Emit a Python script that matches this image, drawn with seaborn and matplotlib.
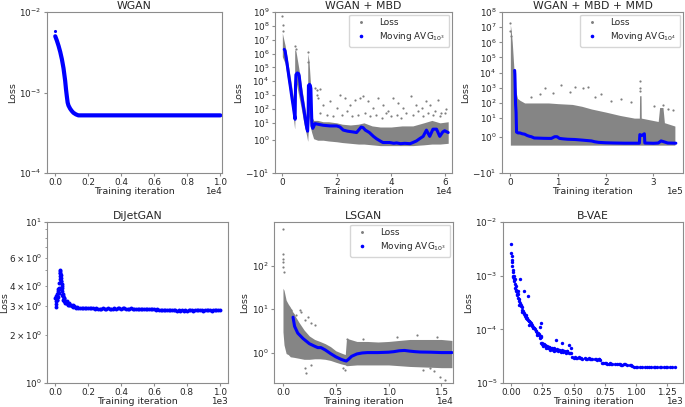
import numpy as np
import pandas as pd
import matplotlib
matplotlib.use("Agg")
import matplotlib.pyplot as plt
import matplotlib.ticker as mticker
from matplotlib.lines import Line2D
import seaborn as sns

# ---------------- WGAN ----------------
wgan_x = [0, 100, 200, 300, 400, 500, 600, 650, 700, 750, 800, 900, 1000, 1100, 1250, 1400, 10000]
wgan_avg = [5.0e-3, 4.4e-3, 3.8e-3, 3.2e-3, 2.6e-3, 2.0e-3, 1.4e-3, 1.1e-3, 9.0e-4, 7.5e-4, 6.9e-4,
            6.3e-4, 5.9e-4, 5.6e-4, 5.35e-4, 5.2e-4, 5.2e-4]
wgan_first_x = [0]
wgan_first_y = [5.8e-3]

# ---------------- WGAN + MBD ----------------
mbd_cloud_x = [0, 1000, 2000, 3000, 4000, 4500, 4550, 5000, 6000, 7000, 8000, 9000, 9300, 9350, 9800,
               10300, 10800, 11500, 13000, 15000, 17000, 20000, 22000, 25000, 28000, 30000, 33000, 36000,
               40000, 44000, 48000, 52000, 55000, 58000, 61000]
mbd_cloud_lo = [6e5, 2e5, 1.3e4, 800, 30, 4, 4, 1e4, 1e3, 100, 8, 1.5, 0.9, 0.9, 30, 5, 2, 1.2, 1.0, 1.0,
                0.9, 0.8, 0.7, 0.6, 0.5, 0.5, 0.4, 0.3, 0.3, 0.3, 0.3, 0.4, 0.5, 0.5, 0.6]
mbd_cloud_hi = [3e7, 4e6, 2.5e5, 1.6e4, 800, 80, 2e6, 1.5e6, 1e5, 5e3, 300, 20, 8, 1e6, 3e5, 1e4, 30, 15,
                15, 12, 12, 10, 8, 7, 8, 10, 6, 5, 5, 6, 6, 10, 15, 10, 12]
mbd_out_x = [0, 370, 100, 4650, 4900, 9300, 9400,
             12000, 12850, 13830, 12600, 13200, 15050, 17500, 19950, 21200, 23000, 24850, 26700, 28500,
             29700, 31600, 33400, 35250, 37100, 38900, 40760, 42600, 44400, 47500, 49300, 51200, 53000,
             54200, 56060, 57300, 58500, 60300,
             13800, 16300, 18700, 21800, 23600, 25500, 27900, 30350, 32200, 34600, 36500, 38300, 40100,
             42000, 43800, 45650, 48100, 49900, 51800, 53600, 55400, 57900, 59700]
mbd_out_y = [5e8, 1.1e8, 4.4e7, 3.7e6, 2.2e6, 1.3e6, 2.4e5,
             3500, 2400, 2800, 1070, 620, 208, 355, 120, 1070, 620, 208, 470, 620,
             800, 355, 120, 620, 208, 70, 620, 270, 120, 800, 208, 120, 355,
             208, 70, 470, 53, 92,
             53, 40, 30, 40, 70, 30, 40, 53, 30, 40, 23, 53, 30,
             40, 23, 53, 40, 70, 30, 53, 40, 30, 53]
mbd_avg_x = [700, 1000, 1500, 2000, 2500, 3000, 3500, 4000, 4500, 4700, 4850, 5000, 5500, 6000, 6200,
             6600, 7000, 7500, 8000, 8500, 9000, 9300, 9500, 9600, 10000, 10300, 10500, 10700, 10900,
             11200, 12000, 13000, 15000, 17500, 20000, 21200, 22400, 24000, 26000, 27300, 29000, 29700,
             30500, 32000, 33500, 34600, 36000, 37000, 39500, 41000, 42000, 43500, 45000, 47000, 48000,
             49300, 50500, 51800, 53000, 54200, 55400, 56700, 57900, 59000, 59700, 61000]
mbd_avg_y = [2.0e6, 1.6e6, 4e5, 8e4, 1.6e4, 3.5e3, 700, 160, 32, 18, 5e3, 3e4, 4e4, 3.5e4, 2.5e4,
             5e3, 1.2e3, 300, 70, 15, 4, 2.5, 30, 5e3, 6e3, 5e3, 3e3, 100, 6,
             4, 8.8, 8, 6.7, 6, 6, 5, 3, 2.5, 2.2, 2.0, 5, 4.5,
             3, 2.0, 1.5, 1.2, 0.9, 0.7, 0.7, 0.6, 0.65, 0.55, 0.6, 0.55, 0.7,
             0.9, 1.2, 1.5, 3, 1.5, 3.5, 3.5, 1.5, 2.2, 2.7, 2.0]

# ---------------- WGAN + MBD + MMD ----------------
mmd_cloud_x = [0, 2000, 4000, 6000, 8000, 10000, 12000, 15000, 20000, 30000, 50000, 80000, 100000, 130000,
               150000, 170000, 200000, 230000, 260000, 270500, 271000, 274000, 274500, 290000, 310000,
               313000, 320000, 323000, 345000]
mmd_cloud_lo = [0.05] * 29
mmd_cloud_hi = [1.5e7, 5e6, 1e6, 1e5, 1e4, 2e3, 500, 200, 150, 100, 100, 100, 90, 80, 60, 40, 25, 15, 10,
                10, 300, 300, 10, 8, 6, 50, 50, 5, 3]
mmd_out_x = [0, 0, 1000, 44000, 61400, 71900, 89300, 106800, 124200, 134700, 152100, 162600, 176600,
             190500, 211400, 232400, 253300, 272200, 272200, 272500, 302200, 319600, 330000, 340500]
mmd_out_y = [1.8e7, 5.7e6, 2.7e6, 230, 380, 1000, 480, 1500, 530, 1100, 910, 1100, 230,
             380, 140, 180, 110, 2700, 1000, 600, 67, 78, 40, 32]
mmd_avg_x = [9000, 9500, 10000, 10500, 11000, 12000, 13000, 16000, 20000, 25000, 30000, 35000, 40000,
             44000, 50000, 60000, 70000, 80000, 86000, 93000, 98000, 103000, 110000, 120000, 135000,
             150000, 160000, 170000, 177000, 185000, 200000, 220000, 240000, 260000, 270500, 271500,
             276000, 281000, 282000, 300000, 310000, 316000, 322000, 330000, 347000]
mmd_avg_y = [1.4e4, 8e3, 2e3, 300, 80, 25, 1.6, 1.5, 1.5, 1.4, 1.35, 1.2, 1.1,
             1.05, 0.9, 0.88, 0.86, 0.85, 0.85, 1.05, 1.05, 0.85, 0.8, 0.75, 0.72,
             0.65, 0.6, 0.55, 0.45, 0.38, 0.33, 0.3, 0.28, 0.28, 0.28, 1.3,
             1.2, 1.4, 0.3, 0.27, 0.3, 0.55, 0.45, 0.3, 0.28]

# ---------------- DiJetGAN ----------------
dijet_x = [0, 2, 4, 6, 8, 10, 12, 14, 16, 18, 20, 22, 24, 26, 28, 30, 32, 34, 36, 38, 40, 42, 44, 46,
           48, 50, 52, 54, 56, 58, 60, 62, 64, 66, 70, 74, 78, 82, 86, 91, 96, 101, 106, 111, 116, 121,
           126, 131, 141, 151, 160, 170, 180, 190, 200, 210, 220, 230, 240, 250, 260, 270, 280, 290,
           300, 310, 320, 330, 340, 350, 360, 370, 380, 390, 400, 410, 420, 430, 440, 450, 460, 470,
           480, 490, 500, 510, 520, 530, 540, 550, 560, 570, 580, 590, 600, 610, 620, 630, 640, 650,
           660, 670, 680, 690, 700, 710, 720, 730, 740, 750, 760, 770, 780, 790, 800, 810, 820, 830,
           840, 850, 860, 870, 880, 890, 900, 910, 920, 930, 940, 950, 960, 970, 980, 990, 1000,
           4, 10, 14, 20, 28, 32, 36, 40, 44, 50, 56, 62, 70, 80]
dijet_y = [3.38, 3.22, 2.97, 3.46, 3.30, 3.30, 3.55, 3.72, 3.63, 3.81, 3.63, 3.81, 4.19, 4.61, 4.95,
           4.79, 5.03, 4.50, 4.66, 4.30, 4.00, 3.90, 3.72, 3.46, 3.55, 3.30, 3.38, 3.22, 3.30, 3.15,
           3.22, 3.18, 3.12, 3.18, 3.15, 3.12, 3.07, 3.12, 3.03, 3.07, 3.03, 3.00, 3.03, 2.97, 3.00, 2.96,
           2.93, 2.96, 2.93, 2.92, 2.92, 2.93, 2.91, 2.92, 2.93, 2.93, 2.91, 2.92, 2.90, 2.91, 2.90,
           2.89, 2.90, 2.91, 2.90, 2.89, 2.91, 2.90, 2.89, 2.90, 2.91, 2.90, 2.92, 2.91, 2.90, 2.92,
           2.91, 2.90, 2.89, 2.90, 2.91, 2.90, 2.89, 2.90, 2.89, 2.90, 2.88, 2.89, 2.88, 2.89, 2.88,
           2.87, 2.88, 2.87, 2.88, 2.86, 2.87, 2.85, 2.86, 2.85, 2.86, 2.85, 2.84, 2.85, 2.83, 2.84,
           2.83, 2.84, 2.82, 2.83, 2.82, 2.83, 2.82, 2.83, 2.82, 2.83, 2.84, 2.83, 2.82, 2.83, 2.84,
           2.83, 2.84, 2.83, 2.82, 2.84, 2.83, 2.84, 2.83, 2.82, 2.83, 2.84, 2.83, 2.84, 2.83,
           3.10, 3.45, 3.40, 3.90, 4.40, 4.85, 4.30, 4.10, 3.50, 3.45, 3.35, 3.25, 3.25, 3.10]

# ---------------- LSGAN ----------------
ls_cloud_x = [0, 100, 300, 500, 700, 1000, 1500, 2000, 2500, 3000, 3500, 4000, 4500, 5000, 5500, 5900,
              6000, 6100, 7000, 8000, 9000, 10000, 11000, 12000, 13000, 14000, 15000, 16000]
ls_cloud_lo = [3, 1.5, 0.95, 0.9, 0.8, 0.78, 0.74, 0.7, 0.7, 0.72, 0.72, 0.7, 0.66, 0.6, 0.55, 0.52,
               0.5, 0.5, 0.52, 0.52, 0.52, 0.52, 0.5, 0.48, 0.47, 0.46, 0.45, 0.45]
ls_cloud_hi = [30, 27, 16, 13, 11, 8, 5, 3.3, 2.4, 2.0, 1.8, 1.6, 1.37, 1.1, 0.98, 0.9,
               1.9, 2.1, 1.8, 1.8, 1.75, 1.8, 1.9, 2.0, 2.0, 2.0, 2.0, 1.9]
ls_out_x = [0, 0, 0, 0, 0, 60, 790, 950, 1270, 1580, 1740, 2060, 2380, 2700, 3010,
            2060, 2150, 2700, 5700, 5860, 14260, 14900, 15370, 13950, 13300,
            6020, 7600, 10800, 12700, 14600]
ls_out_y = [700, 186, 145, 120, 93, 72, 9.5, 7.9, 7.3, 9.5, 8.7, 5.6, 6.7, 4.7, 4.3,
            0.44, 0.34, 0.52, 0.44, 0.40, 0.37, 0.28, 0.24, 0.44, 0.40,
            2.1, 2.0, 2.3, 2.5, 2.3]
ls_avg_x = [950, 1100, 1400, 1900, 2500, 3000, 3300, 3600, 4000, 4500, 5000, 5500, 5800, 6000, 6200,
            6500, 7000, 7500, 8000, 9000, 10000, 10500, 11000, 11500, 12000, 12500, 13000, 14000,
            15000, 16000]
ls_avg_y = [6.5, 4.0, 2.8, 2.1, 1.6, 1.4, 1.3, 1.3, 1.15, 0.95, 0.8, 0.7, 0.66, 0.64, 0.7,
            0.82, 0.93, 0.98, 1.0, 1.0, 1.02, 1.05, 1.1, 1.12, 1.08, 1.05, 1.03, 1.02, 1.0, 1.0]

# ---------------- B-VAE ----------------
bvae_x = [0, 2, 4, 6, 8, 10, 12, 14, 16, 18, 20, 24, 28, 32, 36, 40, 45, 50, 55, 60, 65, 70, 75, 80,
          85, 90, 95, 100, 110, 120, 130, 140, 150, 160, 170, 180, 190, 200, 210, 220, 230, 238, 242,
          250, 260, 270, 280, 290, 300, 320, 340, 360, 380, 400, 420, 440, 460, 480, 490, 520, 560,
          600, 640, 680, 710, 725, 760, 800, 850, 900, 950, 970, 1000, 1050, 1100, 1150, 1200, 1250,
          1310,
          22, 30, 42, 52, 58, 74, 106, 132, 238, 233, 357, 410, 463, 477, 66, 88, 115, 145, 175, 205,
          228, 255, 275, 310, 345, 395, 445, 540, 620, 700, 780, 880]
bvae_y = [3.9e-3, 2.6e-3, 2.3e-3, 2.0e-3, 1.8e-3, 1.5e-3, 1.3e-3, 1.15e-3, 1.0e-3, 9.5e-4, 8.5e-4,
          8.0e-4, 7.0e-4, 6.0e-4, 5.5e-4, 5.2e-4, 4.6e-4, 4.3e-4, 3.9e-4, 3.7e-4, 3.4e-4, 3.1e-4,
          2.9e-4, 2.7e-4, 2.6e-4, 2.3e-4, 2.2e-4, 2.0e-4, 1.8e-4, 1.7e-4, 1.55e-4, 1.45e-4, 1.35e-4,
          1.25e-4, 1.15e-4, 1.05e-4, 1.0e-4, 9.2e-5, 8.6e-5, 8.2e-5, 7.6e-5, 7.2e-5, 5.6e-5, 5.4e-5,
          5.2e-5, 5.0e-5, 4.8e-5, 4.7e-5, 4.6e-5, 4.4e-5, 4.3e-5, 4.2e-5, 4.1e-5, 4.0e-5, 3.9e-5,
          3.8e-5, 3.7e-5, 3.7e-5, 3.0e-5, 2.95e-5, 2.9e-5, 2.85e-5, 2.8e-5, 2.75e-5, 2.7e-5, 2.4e-5,
          2.35e-5, 2.3e-5, 2.3e-5, 2.25e-5, 2.2e-5, 2.05e-5, 2.0e-5, 2.0e-5, 2.0e-5, 2.0e-5, 2.0e-5,
          2.0e-5, 2.0e-5,
          1.0e-3, 8.8e-4, 6.5e-4, 5.2e-4, 4.5e-4, 8.5e-4, 5.1e-4, 4.2e-4, 1.3e-4, 1.1e-4, 6.4e-5,
          5.6e-5, 5.0e-5, 4.5e-5, 2.8e-4, 2.1e-4, 1.6e-4, 1.2e-4, 1.05e-4, 8.0e-5, 6.8e-5, 4.8e-5,
          4.4e-5, 4.2e-5, 4.0e-5, 3.8e-5, 4.0e-5, 3.0e-5, 2.9e-5, 2.8e-5, 2.3e-5, 2.2e-5]
bvae_band_x = [105, 115, 125, 135, 145, 155, 165, 175, 185, 195, 215, 225, 235,
               245, 255, 265, 275, 285, 295, 305, 315, 325, 335, 345, 355, 365, 375, 385, 395, 405,
               415, 425, 435, 450, 470,
               500, 510, 530, 550, 570, 590, 610, 630, 650, 670, 690, 700,
               735, 750, 770, 790, 810, 830, 860, 870, 890, 910, 930, 960,
               980, 1010, 1030, 1070, 1090, 1120, 1140, 1170, 1190, 1220, 1240, 1270, 1290]
bvae_band_y = [1.9e-4, 1.85e-4, 1.6e-4, 1.5e-4, 1.4e-4, 1.3e-4, 1.2e-4, 1.1e-4, 1.05e-4, 9.5e-5,
               8.5e-5, 8.0e-5, 7.4e-5,
               5.5e-5, 5.0e-5, 5.3e-5, 4.7e-5, 4.9e-5, 4.5e-5, 4.7e-5, 4.3e-5, 4.5e-5, 4.2e-5, 4.4e-5,
               4.1e-5, 4.3e-5, 4.0e-5, 4.2e-5, 3.9e-5, 4.1e-5, 3.8e-5, 4.0e-5, 3.7e-5, 3.9e-5, 3.6e-5,
               2.9e-5, 3.0e-5, 2.9e-5, 2.95e-5, 2.85e-5, 2.9e-5, 2.8e-5, 2.85e-5, 2.75e-5, 2.8e-5,
               2.7e-5, 2.75e-5,
               2.35e-5, 2.4e-5, 2.3e-5, 2.35e-5, 2.3e-5, 2.25e-5, 2.3e-5, 2.25e-5, 2.2e-5, 2.25e-5,
               2.2e-5, 2.15e-5,
               2.0e-5, 2.0e-5, 2.0e-5, 2.0e-5, 2.0e-5, 2.0e-5, 2.0e-5, 2.0e-5, 2.0e-5, 2.0e-5, 2.0e-5,
               2.0e-5, 2.0e-5]

# ---------------- style ----------------
sns.set_style("ticks")
plt.rcParams.update({
    "font.family": ["DejaVu Sans"],
    "axes.edgecolor": "#8c8c8c",
    "axes.linewidth": 0.8,
    "xtick.color": "#8c8c8c",
    "ytick.color": "#8c8c8c",
    "xtick.labelcolor": "#262626",
    "ytick.labelcolor": "#262626",
    "xtick.major.size": 2.5,
    "ytick.major.size": 2.5,
    "xtick.minor.size": 1.5,
    "ytick.minor.size": 1.5,
    "xtick.major.pad": 1.2,
    "ytick.major.pad": 1.5,
    "xtick.minor.pad": 1.2,
    "ytick.minor.pad": 1.5,
    "xtick.labelsize": 6.4,
    "ytick.labelsize": 6.4,
    "axes.labelsize": 6.8,
    "axes.titlesize": 7.8,
    "axes.labelcolor": "#262626",
    "axes.titlecolor": "#262626",
    "legend.fontsize": 6.4,
})

GRAY = "#7f7f7f"
BLUE = "#0000ff"
W, H = 685, 407
fig = plt.figure(figsize=(W / 100, H / 100), dpi=100)


def box(l, r, t, b):
    return [l / W, 1 - b / H, (r - l) / W, (b - t) / H]


def finish(ax, title, ypad=1.5):
    ax.set_title(title, pad=2.5)
    ax.set_xlabel("Training iteration", labelpad=0)
    ax.set_ylabel("Loss", labelpad=ypad)
    ax.ticklabel_format(axis="x", style="sci", scilimits=(0, 0), useMathText=False)
    for s in ax.spines.values():
        s.set_visible(True)


def legend(ax, sub):
    handles = [Line2D([], [], marker=".", ls="", color=GRAY, ms=2.2, label="Loss"),
               Line2D([], [], marker=".", ls="", color=BLUE, ms=3.2, label="Moving AVG$_{%s}$" % sub)]
    ax.legend(handles=handles, loc="upper right", frameon=True, borderpad=0.4, handletextpad=1.2,
              labelspacing=0.35, borderaxespad=0.3, handlelength=1.8)


def cloud(ax, x, lo, hi):
    ax.fill_between(x, lo, hi, color=GRAY, lw=0, alpha=0.95)


axes = []

# 1 WGAN
ax1 = fig.add_axes(box(47, 222, 12, 173))
ax1.set_yscale("log")
sns.lineplot(x=wgan_x, y=wgan_avg, ax=ax1, color=BLUE, lw=3, sort=False, estimator=None)
sns.scatterplot(x=wgan_first_x, y=wgan_first_y, ax=ax1, color=BLUE, s=5, linewidth=0)
ax1.set_ylim(1e-4, 1e-2)
ax1.set_xlim(-500, 10100)
ax1.yaxis.set_minor_locator(mticker.NullLocator())
finish(ax1, "WGAN")
axes.append(ax1)

# 2 WGAN + MBD
ax2 = fig.add_axes(box(275, 452, 12, 173))
ax2.set_yscale("symlog", linthresh=2)
cloud(ax2, mbd_cloud_x, mbd_cloud_lo, mbd_cloud_hi)
sns.scatterplot(x=mbd_out_x, y=mbd_out_y, ax=ax2, color=GRAY, s=2.5, linewidth=0)
sns.lineplot(x=mbd_avg_x, y=mbd_avg_y, ax=ax2, color=BLUE, lw=2.2, sort=False, estimator=None)
ax2.set_ylim(-10, 1e9)
ax2.set_yticks([-10] + [10.0 ** k for k in range(0, 10)])
ax2.yaxis.set_minor_locator(mticker.NullLocator())
ax2.set_xlim(-2700, 62400)
finish(ax2, "WGAN + MBD")
legend(ax2, "10^3")
axes.append(ax2)

# 3 WGAN + MBD + MMD
ax3 = fig.add_axes(box(502, 683, 12, 173))
ax3.set_yscale("symlog", linthresh=2)
cloud(ax3, mmd_cloud_x, mmd_cloud_lo, mmd_cloud_hi)
sns.scatterplot(x=mmd_out_x, y=mmd_out_y, ax=ax3, color=GRAY, s=2.5, linewidth=0)
sns.lineplot(x=mmd_avg_x, y=mmd_avg_y, ax=ax3, color=BLUE, lw=2.2, sort=False, estimator=None)
ax3.set_ylim(-10, 1e8)
ax3.set_yticks([-10] + [10.0 ** k for k in range(0, 9)])
ax3.yaxis.set_minor_locator(mticker.NullLocator())
ax3.set_xlim(-17500, 362000)
finish(ax3, "WGAN + MBD + MMD")
legend(ax3, "10^4")
axes.append(ax3)

# 4 DiJetGAN
ax4 = fig.add_axes(box(47, 228, 222, 383))
ax4.set_yscale("log")
sns.scatterplot(x=dijet_x, y=dijet_y, ax=ax4, color=BLUE, s=8, linewidth=0)
ax4.set_ylim(1, 10)
ax4.set_xlim(-50, 1050)
finish(ax4, "DiJetGAN", ypad=0.3)
axes.append(ax4)

# 5 LSGAN
ax5 = fig.add_axes(box(274, 453, 222, 383))
ax5.set_yscale("log")
cloud(ax5, ls_cloud_x, ls_cloud_lo, ls_cloud_hi)
sns.scatterplot(x=ls_out_x, y=ls_out_y, ax=ax5, color=GRAY, s=2.5, linewidth=0)
sns.lineplot(x=ls_avg_x, y=ls_avg_y, ax=ax5, color=BLUE, lw=2.2, sort=False, estimator=None)
ax5.set_ylim(0.2, 1000)
ax5.set_yticks([1, 10, 100])
ax5.yaxis.set_minor_locator(mticker.NullLocator())
ax5.set_xlim(-850, 16100)
ax5.set_xticks([0, 5000, 10000, 15000])
finish(ax5, "LSGAN")
legend(ax5, "10^3")
axes.append(ax5)

# 6 B-VAE
ax6 = fig.add_axes(box(503, 683, 222, 383))
ax6.set_yscale("log")
sns.scatterplot(x=bvae_x, y=bvae_y, ax=ax6, color=BLUE, s=6, linewidth=0)
sns.scatterplot(x=bvae_band_x, y=bvae_band_y, ax=ax6, color=BLUE, s=6, linewidth=0)
ax6.set_ylim(1e-5, 1e-2)
ax6.set_xlim(-65, 1375)
ax6.set_xticks([0, 250, 500, 750, 1000, 1250])
ax6.yaxis.set_minor_locator(mticker.NullLocator())
finish(ax6, "B-VAE")
axes.append(ax6)

# place the x offset text ("1e4" etc.) level with the x label, right-aligned, as in the reference
fig.canvas.draw()
for ax in axes:
    off = ax.xaxis.get_offset_text()
    txt = off.get_text()
    off.set_visible(False)
    ax.text(1.0, -0.085, txt, transform=ax.transAxes, ha="right", va="top", fontsize=6.4,
            color="#262626")

fig.savefig("out.png", dpi=100)
